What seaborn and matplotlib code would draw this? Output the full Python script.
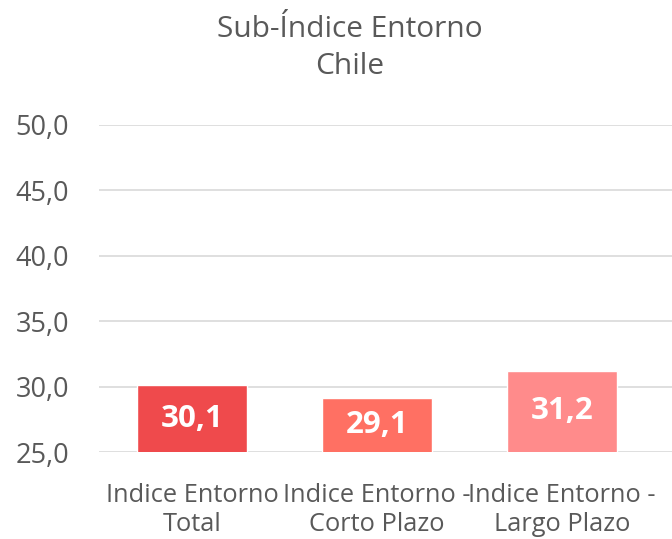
import matplotlib
matplotlib.use("Agg")
import matplotlib.pyplot as plt
import seaborn as sns
import pandas as pd

categories = ["Indice Entorno\nTotal", "Indice Entorno -\nCorto Plazo", "Indice Entorno -\nLargo Plazo"]
values = [30.1, 29.1, 31.2]
colors = ["#EF4A4C", "#FF7063", "#FF8B8B"]
yticks = [25, 30, 35, 40, 45, 50]
title = "Sub-Índice Entorno\nChile"

sns.set_theme(style="white")
plt.rcParams["font.family"] = ["Open Sans", "DejaVu Sans"]

df = pd.DataFrame({"cat": categories, "val": values})

fig = plt.figure(figsize=(6.72, 5.39), dpi=100)
ax = fig.add_axes([0.148, 0.1614, 0.852, 0.6067])
sns.barplot(data=df, x="cat", y="val", hue="cat", palette=colors, width=0.595,
            legend=False, ax=ax, saturation=1)

ax.set_ylim(25, 50)
ax.set_xlim(-0.5, 2.595)
ax.set_yticks(yticks)
ax.set_yticklabels([f"{t:.1f}".replace(".", ",") for t in yticks], color="#595959", fontsize=19.5)
ax.tick_params(axis="x", colors="#595959", labelsize=18.3, length=0, pad=22)
ax.tick_params(axis="y", length=0, pad=22)
ax.set_xlabel("")
ax.set_ylabel("")
for s in ax.spines.values():
    s.set_visible(False)
ax.yaxis.grid(True, color="#D9D9D9", linewidth=1.2)
ax.set_axisbelow(True)
for lbl in ax.get_xticklabels():
    lbl.set_linespacing(1.25)

for i, v in enumerate(values):
    ax.text(i, (25 + v) / 2, f"{v:.1f}".replace(".", ","), ha="center", va="center",
            color="white", fontsize=22.5, fontweight="bold")

fig.text(0.52, 0.911, title, ha="center", va="center", fontsize=21.5, color="#595959",
         linespacing=1.38)

fig.savefig("out.png", dpi=100)
